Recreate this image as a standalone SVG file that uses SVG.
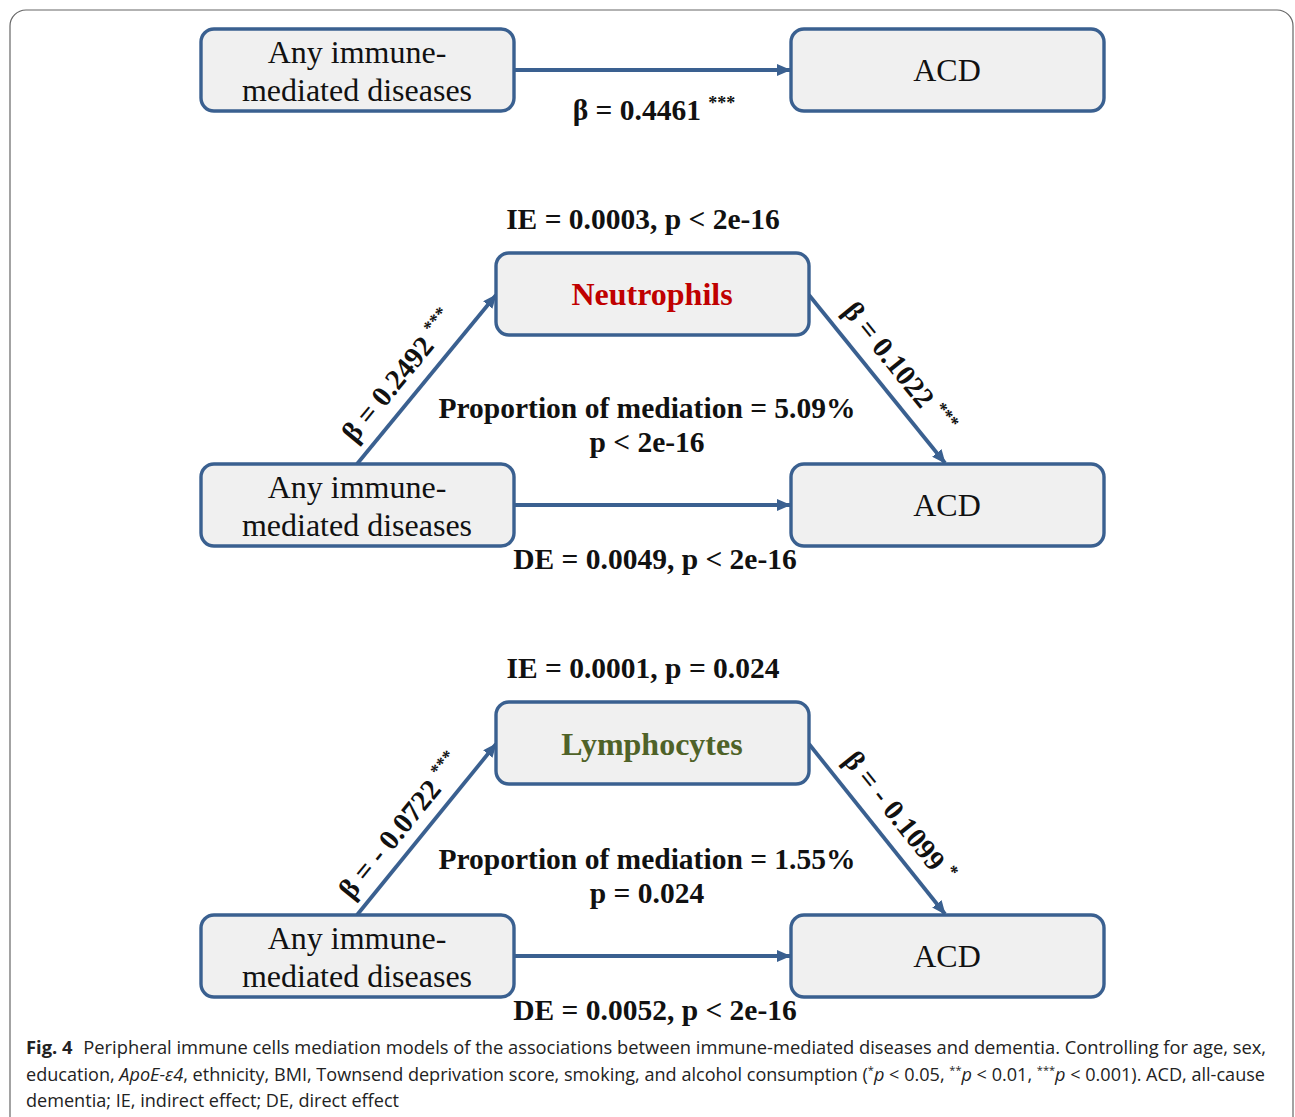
<svg xmlns="http://www.w3.org/2000/svg" width="1295" height="1117" viewBox="0 0 1295 1117">
<style>
.box{fill:#F0F0F0;stroke:#3A6090;stroke-width:3.4}
.nt{font-family:"Liberation Serif","Times New Roman",serif;font-size:32px;fill:#111;text-anchor:middle}
.lb{font-family:"Liberation Serif","Times New Roman",serif;font-size:29.5px;font-weight:bold;fill:#111;text-anchor:middle}
.dl{font-family:"Liberation Serif","Times New Roman",serif;font-size:29px;font-weight:bold;fill:#111;text-anchor:middle}
.st{font-size:18px}
.ed{stroke:#3A6090;stroke-width:3.8;fill:none;marker-end:url(#ah)}
.cap{font-family:"Open Sans","Noto Sans",sans-serif;font-size:18px;fill:#222}
</style>
<defs>
<marker id="ah" markerUnits="userSpaceOnUse" markerWidth="14" markerHeight="12" refX="13" refY="6" orient="auto">
<path d="M0,0 L14,6 L0,12 Z" fill="#3A6090"/>
</marker>
</defs>
<rect x="10" y="10" width="1283" height="1130" rx="16" fill="none" stroke="#666" stroke-width="1.2"/>

<g id="connectors">
<line class="ed" x1="514" y1="70" x2="790" y2="70"/>
<line class="ed" x1="357" y1="464" x2="496" y2="295"/>
<line class="ed" x1="809" y1="295" x2="945" y2="463"/>
<line class="ed" x1="514" y1="505" x2="790" y2="505"/>
<line class="ed" x1="357" y1="915" x2="496" y2="744"/>
<line class="ed" x1="809" y1="744" x2="945" y2="914"/>
<line class="ed" x1="514" y1="956" x2="790" y2="956"/>
</g>

<g id="n1"><rect class="box" x="201" y="29" width="313" height="82" rx="13"/>
<text class="nt" x="357" y="63">Any immune-</text><text class="nt" x="357" y="101">mediated diseases</text></g>
<g id="n2"><rect class="box" x="791" y="29" width="313" height="82" rx="13"/>
<text class="nt" x="947" y="81">ACD</text></g>
<text class="lb" x="654" y="120">β = 0.4461 <tspan class="st" dy="-11">***</tspan></text>

<text class="lb" x="643" y="229">IE = 0.0003, p &lt; 2e-16</text>
<g id="n3"><rect class="box" x="496" y="253" width="313" height="82" rx="13"/>
<text class="lb" x="652" y="305" style="font-size:32px;fill:#C00000">Neutrophils</text></g>
<g id="n4"><rect class="box" x="201" y="464" width="313" height="82" rx="13"/>
<text class="nt" x="357" y="498">Any immune-</text><text class="nt" x="357" y="536">mediated diseases</text></g>
<g id="n5"><rect class="box" x="791" y="464" width="313" height="82" rx="13"/>
<text class="nt" x="947" y="516">ACD</text></g>
<text class="dl" transform="translate(406,382) rotate(-50.6)">β = 0.2492 <tspan class="st" dy="-11">***</tspan></text>
<text class="dl" transform="translate(892,374) rotate(51.2)">β = 0.1022 <tspan class="st" dy="-11">***</tspan></text>
<text class="lb" x="647" y="418">Proportion of mediation = 5.09%</text>
<text class="lb" x="647" y="452">p &lt; 2e-16</text>
<text class="lb" x="655" y="569">DE = 0.0049, p &lt; 2e-16</text>

<text class="lb" x="643" y="678">IE = 0.0001, p = 0.024</text>
<g id="n6"><rect class="box" x="496" y="702" width="313" height="82" rx="13"/>
<text class="lb" x="652" y="755" style="font-size:32px;fill:#4F6228">Lymphocytes</text></g>
<g id="n7"><rect class="box" x="201" y="915" width="313" height="82" rx="13"/>
<text class="nt" x="357" y="949">Any immune-</text><text class="nt" x="357" y="987">mediated diseases</text></g>
<g id="n8"><rect class="box" x="791" y="915" width="313" height="82" rx="13"/>
<text class="nt" x="947" y="967">ACD</text></g>
<text class="dl" transform="translate(408,832) rotate(-50.9)">β = - 0.0722 <tspan class="st" dy="-11">***</tspan></text>
<text class="dl" transform="translate(892,823) rotate(51.3)">β = - 0.1099 <tspan class="st" dy="-11">*</tspan></text>
<text class="lb" x="647" y="869">Proportion of mediation = 1.55%</text>
<text class="lb" x="647" y="903">p = 0.024</text>
<text class="lb" x="655" y="1020">DE = 0.0052, p &lt; 2e-16</text>

<text class="cap" x="26" y="1054" textLength="1240" lengthAdjust="spacingAndGlyphs"><tspan font-weight="bold">Fig. 4</tspan><tspan dx="6"> Peripheral immune cells mediation models of the associations between immune-mediated diseases and dementia. Controlling for age, sex,</tspan></text>
<text class="cap" x="26" y="1081" textLength="1239" lengthAdjust="spacingAndGlyphs">education, <tspan font-style="italic">ApoE-ε4</tspan>, ethnicity, BMI, Townsend deprivation score, smoking, and alcohol consumption (<tspan font-size="11" dy="-7">*</tspan><tspan font-style="italic" dy="7">p</tspan> &lt; 0.05, <tspan font-size="11" dy="-7">**</tspan><tspan font-style="italic" dy="7">p</tspan> &lt; 0.01, <tspan font-size="11" dy="-7">***</tspan><tspan font-style="italic" dy="7">p</tspan> &lt; 0.001). ACD, all-cause</text>
<text class="cap" x="26" y="1107" textLength="373" lengthAdjust="spacingAndGlyphs">dementia; IE, indirect effect; DE, direct effect</text>
</svg>
